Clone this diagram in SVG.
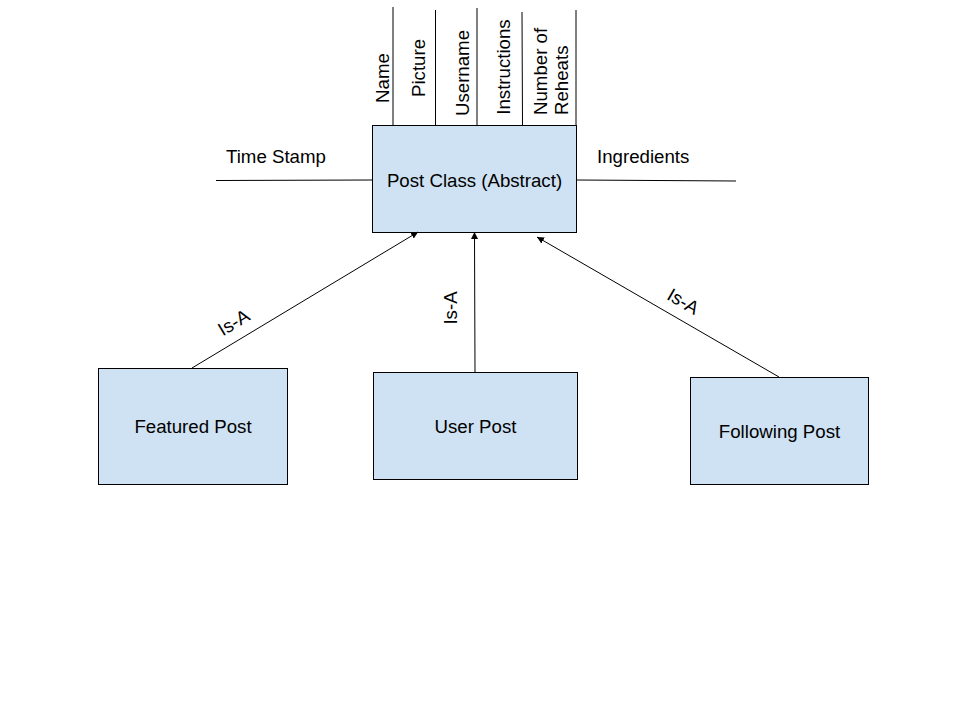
<svg xmlns="http://www.w3.org/2000/svg" width="960" height="720" viewBox="0 0 960 720">
<style>
.box{fill:#cfe2f3;stroke:#000;stroke-width:1}
.ln{stroke:#000;stroke-width:1;fill:none}
text{font-family:"Liberation Sans",Arial,sans-serif;font-size:18.67px;fill:#000}
.c{text-anchor:middle}
</style>
<defs>
<marker id="ah" viewBox="0 0 10 10" refX="10" refY="5" markerWidth="7" markerHeight="7" markerUnits="userSpaceOnUse" orient="auto">
<path d="M0,0 L10,5 L0,10 z" fill="#000"/>
</marker>
</defs>
<rect width="960" height="720" fill="#fff"/>
<g id="attributes">
<line class="ln" x1="393" y1="7" x2="393" y2="125"/>
<line class="ln" x1="435.5" y1="10" x2="435.5" y2="125"/>
<line class="ln" x1="477" y1="8" x2="477" y2="125"/>
<line class="ln" x1="522" y1="12" x2="522.5" y2="125"/>
<line class="ln" x1="576" y1="10" x2="576" y2="125"/>
<line class="ln" x1="216" y1="180.5" x2="372" y2="180"/>
<line class="ln" x1="577" y1="180" x2="736" y2="181"/>
<text transform="translate(389,78) rotate(-90)" class="c">Name</text>
<text transform="translate(425,68) rotate(-90)" class="c">Picture</text>
<text transform="translate(469,73) rotate(-90)" class="c">Username</text>
<text transform="translate(510,67) rotate(-90)" class="c">Instructions</text>
<text transform="translate(547,115) rotate(-90)">Number of</text>
<text transform="translate(568,115) rotate(-90)">Reheats</text>
<text x="226" y="163">Time Stamp</text>
<text x="597" y="163">Ingredients</text>
</g>
<g id="post-class">
<rect class="box" x="372.5" y="125.5" width="204" height="107"/>
<text x="474.5" y="187" class="c">Post Class (Abstract)</text>
</g>
<g id="featured-post">
<rect class="box" x="98.5" y="368.5" width="189" height="116"/>
<text x="193" y="433" class="c">Featured Post</text>
</g>
<g id="user-post">
<rect class="box" x="373.5" y="372.5" width="204" height="107"/>
<text x="475.5" y="433" class="c">User Post</text>
</g>
<g id="following-post">
<rect class="box" x="690.5" y="377.5" width="178" height="107"/>
<text x="779.5" y="438" class="c">Following Post</text>
</g>
<g id="connectors">
<line class="ln" x1="192" y1="368" x2="418" y2="232" marker-end="url(#ah)"/>
<line class="ln" x1="475" y1="372" x2="474.5" y2="232" marker-end="url(#ah)"/>
<line class="ln" x1="779" y1="377" x2="537" y2="237" marker-end="url(#ah)"/>
<text transform="translate(237,328) rotate(-31)" class="c">Is-A</text>
<text transform="translate(457,308) rotate(-90)" class="c">Is-A</text>
<text transform="translate(680,307) rotate(30)" class="c">Is-A</text>
</g>
</svg>
